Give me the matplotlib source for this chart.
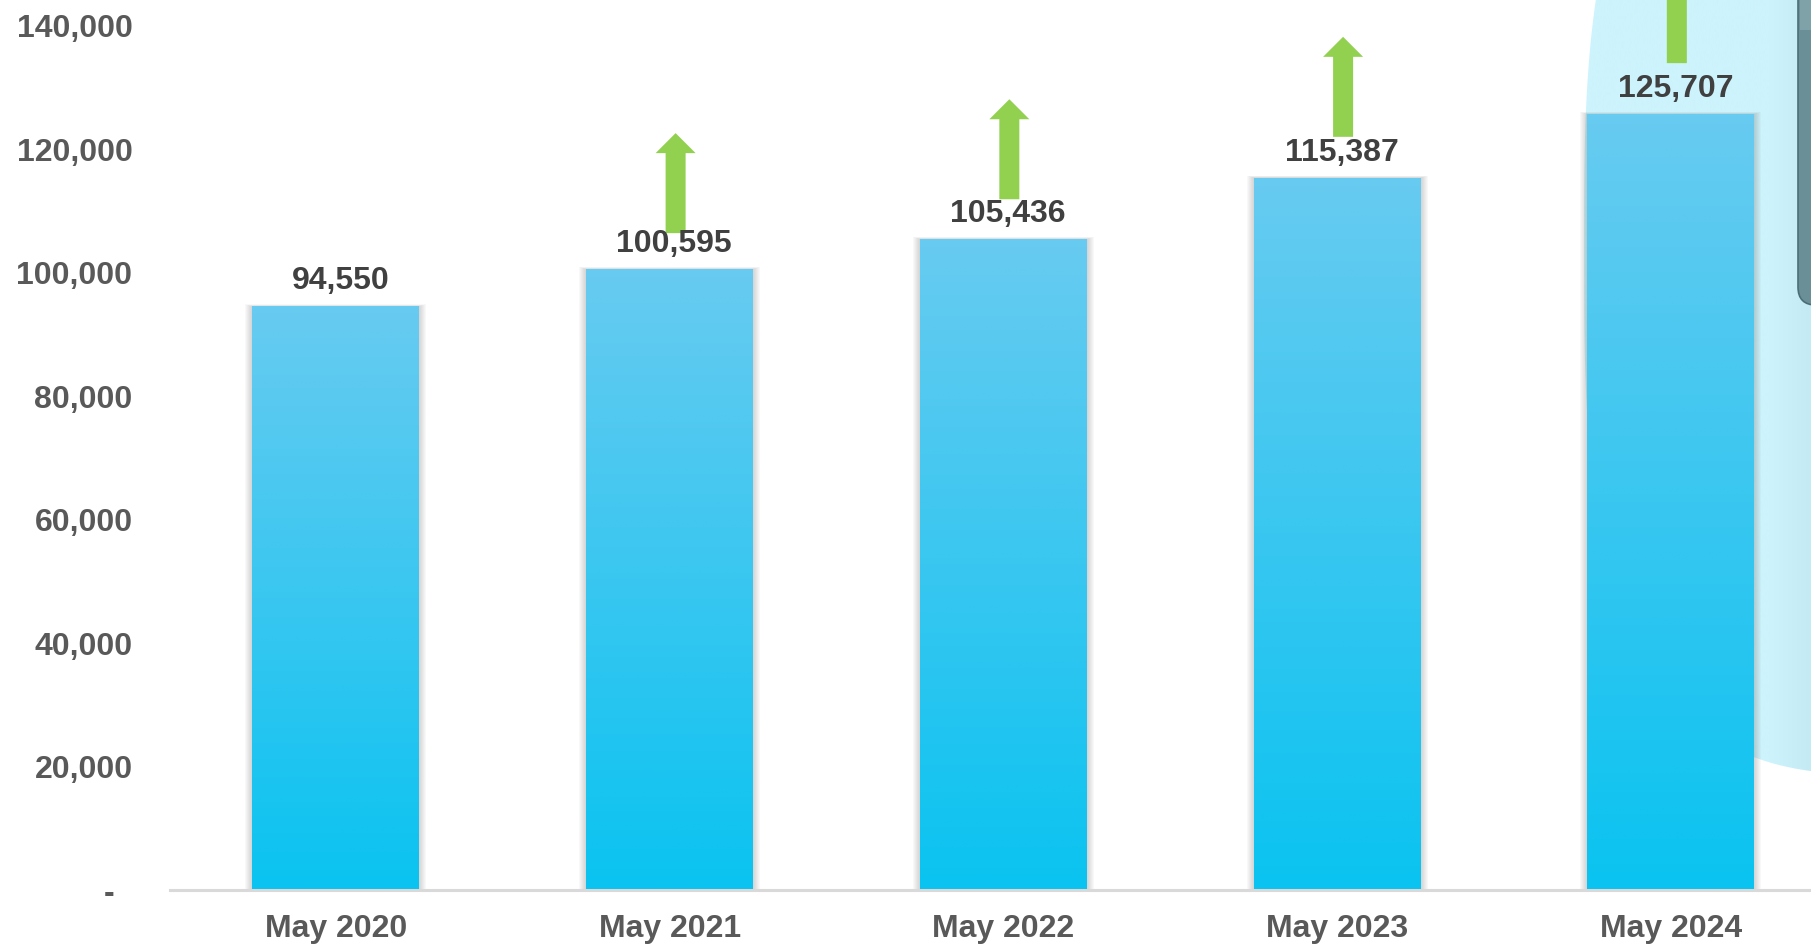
import numpy as np
import matplotlib
matplotlib.use("Agg")
import matplotlib.pyplot as plt
from matplotlib.patches import Polygon, Rectangle, FancyArrow, FancyBboxPatch
from matplotlib.ticker import FuncFormatter

# data
months = ["May 2020", "May 2021", "May 2022", "May 2023", "May 2024"]
members = [94550, 100595, 105436, 115387, 125707]
y_ticks = [0, 20000, 40000, 60000, 80000, 100000, 120000, 140000]
growth_bars = [1, 2, 3, 4]          # bars marked with a green up-arrow

# styling
W, H = 1811, 946
BAR_TOP = np.array([104, 203, 240]) / 255
BAR_BOT = np.array([10, 195, 240]) / 255
GREEN = "#92d050"
TICK_C = "#595959"
LABEL_C = "#404040"
FONT = "Liberation Sans"
FS = 23
arrow_gap_px = [36, 40, 41, 51]

plt.rcParams["font.family"] = [FONT, "DejaVu Sans"]

fig = plt.figure(figsize=(W / 100, H / 100), dpi=100)

# ---- background decoration (pixel coordinates) ----
bg = fig.add_axes([0, 0, 1, 1], zorder=0)
bg.set_axis_off()

cx, cy, a, b, n = 1900, 250, 316, 525, 3.0
t = np.linspace(0, 2 * np.pi, 400)
ex = cx + a * np.sign(np.cos(t)) * np.abs(np.cos(t)) ** (2 / n)
ey = cy + b * np.sign(np.sin(t)) * np.abs(np.sin(t)) ** (2 / n)
blob = Polygon(np.column_stack([ex, ey]), closed=True, fc="none", ec="none",
               transform=bg.transData)
bg.add_patch(blob)
xs = np.linspace(1575, 1811, 240)
c0 = np.array([205, 243, 252]) / 255
c1 = np.array([196, 234, 244]) / 255
f = np.clip((xs - 1770) / 41, 0, 1)[:, None]
grad = (c0 * (1 - f) + c1 * f)[None, :, :]
im = bg.imshow(grad, extent=(1575, 1811, 800, -10), aspect="auto",
               interpolation="bilinear", zorder=1)
im.set_clip_path(blob)

dark = FancyBboxPatch((1798, -60), 80, 365, boxstyle="round,pad=0,rounding_size=18",
                      fc="#6a8f97", ec="#4d6e77", lw=1.2, zorder=2)
bg.add_patch(dark)
bg.add_patch(Rectangle((1800, -5), 20, 35, fc="#7fa1a8", ec="none", zorder=3))

bg.set_xlim(0, W)
bg.set_ylim(H, 0)

# ---- main chart ----
ax = fig.add_axes([170 / W, 56 / H, (W - 170) / W, 890 / H], zorder=1)
ax.patch.set_alpha(0)
x = np.arange(len(months))
width = 0.5
ax.set_xlim(-0.497, 4.42)
ax.set_ylim(0, 144200)

xpx = 4.917 / (W - 170)
ypx = 144200 / 890

bars = ax.bar(x, members, width=width, color="none", edgecolor="none", zorder=3)
gimg = np.linspace(BAR_TOP, BAR_BOT, 256)[:, None, :]
for rect, v in zip(bars, members):
    x0 = rect.get_x()
    # soft shadow
    for k in range(1, 8):
        ax.add_patch(Rectangle((x0 - k * xpx, 0), width + 2 * k * xpx, v + 0.3 * k * ypx,
                               fc="#6e6e6e", ec="none", alpha=0.045, zorder=2))
    gi = ax.imshow(gimg, extent=(x0, x0 + width, 0, v), aspect="auto",
                   interpolation="bilinear", zorder=3)
    gi.set_clip_path(rect)

# value labels
for xi, v in zip(x, members):
    ax.annotate(f"{v:,}", (xi, v), xytext=(3.3, 17 * 0.72), textcoords="offset points",
                ha="center", va="baseline", fontsize=FS, fontweight="bold",
                color=LABEL_C, zorder=6)

# growth arrows
for i, gap in zip(growth_bars, arrow_gap_px):
    base = members[i] + gap * ypx
    ax.add_patch(FancyArrow(x[i] + 6 * xpx, base, 0, 100 * ypx,
                            width=20 * xpx, head_width=40 * xpx, head_length=20 * ypx,
                            length_includes_head=True, fc=GREEN, ec="none", zorder=5))

# axes styling
for s in ["top", "right", "left"]:
    ax.spines[s].set_visible(False)
ax.spines["bottom"].set_color("#d9d9d9")
ax.spines["bottom"].set_linewidth(2.2)
ax.spines["bottom"].set_zorder(4)

ax.set_xticks(x)
ax.set_xticklabels(months)
ax.set_yticks(y_ticks)
ax.yaxis.set_major_formatter(FuncFormatter(lambda v, p: "-  " if v == 0 else f"{v:,.0f}"))
ax.tick_params(axis="both", length=0, labelsize=FS, labelcolor=TICK_C)
ax.tick_params(axis="y", pad=27)
ax.tick_params(axis="x", pad=17)
for lab in ax.get_xticklabels() + ax.get_yticklabels():
    lab.set_fontweight("bold")

fig.savefig("out.png", dpi=100)
